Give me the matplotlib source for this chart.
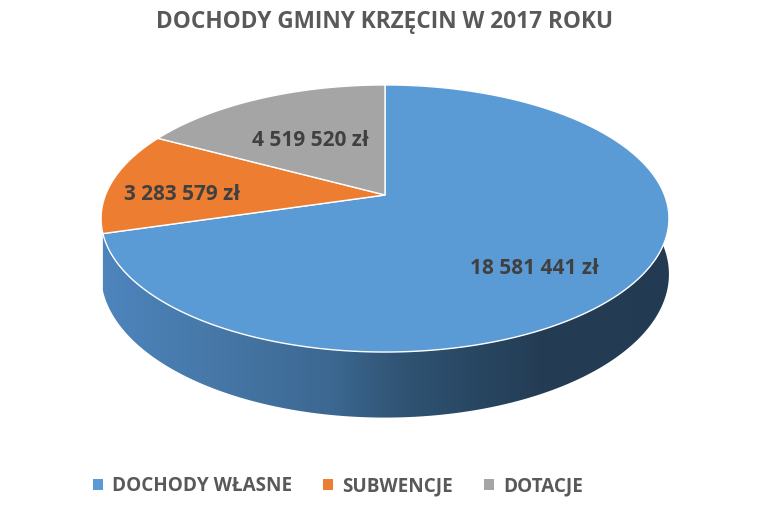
import numpy as np
import matplotlib
matplotlib.use("Agg")
from matplotlib import pyplot as plt
from matplotlib.patches import Patch, Polygon

# dane
categories = ["DOCHODY WŁASNE", "SUBWENCJE", "DOTACJE"]
values = [18581441, 3283579, 4519520]
value_labels = ["18 581 441 zł", "3 283 579 zł", "4 519 520 zł"]
colors = ["#5B9BD5", "#ED7D31", "#A5A5A5"]

# geometria "3D" (perspektywa)
cx, cy = 385, 195
A, B, k, D = 279.5, 129.4, 0.176, 54
label_pos = [(535, 268), (182, 195), (310, 140)]


def project(theta, r=1.0):
    u = r * np.sin(theta)
    v = -r * np.cos(theta)
    s = 1.0 / (1 - k * v)
    return cx + A * u * s, cy + B * v * s, s


fig = plt.figure(figsize=(7.7, 5.08), dpi=100)
ax = fig.add_axes([0, 0, 1, 1])
ax.axis("off")

fracs = np.array(values) / np.sum(values)
bounds = np.concatenate([[0], np.cumsum(fracs)]) * 2 * np.pi

# boczna sciana (tylko duzy wycinek jest widoczny) - gradient po x
th = np.linspace(bounds[0], bounds[1], 400)
x, y, s = project(th)
side = np.concatenate([np.column_stack([x, y]),
                       np.column_stack([x, y + D * s])[::-1]])
side_patch = Polygon(side, closed=True, fc="none", ec="none")
ax.add_patch(side_patch)

grad_x = [100, 220, 330, 400, 480, 540, 680]
grad_c = ["#4d85bd", "#4677a6", "#3c6892", "#305474", "#284661", "#243d55", "#233b52"]
grad_rgb = np.array([matplotlib.colors.to_rgb(c) for c in grad_c])
gx = np.linspace(90, 690, 600)
grad = np.stack([np.interp(gx, grad_x, grad_rgb[:, n]) for n in range(3)], axis=-1)[None, :, :]
im = ax.imshow(grad, extent=(90, 690, 430, 80), aspect="auto", zorder=1)
im.set_clip_path(side_patch)

# gorna powierzchnia
for i in range(len(values)):
    th = np.linspace(bounds[i], bounds[i + 1], 300)
    x, y, _ = project(th)
    xs = np.concatenate([[cx], x, [cx]])
    ys = np.concatenate([[cy], y, [cy]])
    ax.fill(xs, ys, color=colors[i], ec="white", lw=1.0, zorder=3)

for (lx, ly), txt in zip(label_pos, value_labels):
    ax.text(lx, ly, txt, ha="center", va="center", fontsize=15,
            fontweight="bold", color="#404040", family="Open Sans", zorder=5)

ax.text(385, 22, "DOCHODY GMINY KRZĘCIN W 2017 ROKU", ha="center", va="center",
        fontsize=16.3, fontweight="bold", color="#595959", family="Open Sans")

ax.set_xlim(0, 770)
ax.set_ylim(508, 0)

handles = [Patch(facecolor=c, edgecolor="none") for c in colors]
leg = fig.legend(handles, categories, loc="center left", bbox_to_anchor=(93 / 770, 1 - 486 / 508),
                 ncol=3, frameon=False, borderpad=0, borderaxespad=0,
                 handlelength=0.54, handleheight=0.54,
                 handletextpad=0.46, columnspacing=1.65,
                 prop={"family": "Open Sans", "weight": "bold", "size": 13.6})
for t in leg.get_texts():
    t.set_color("#595959")

fig.savefig("out.png", dpi=100, facecolor="white")
